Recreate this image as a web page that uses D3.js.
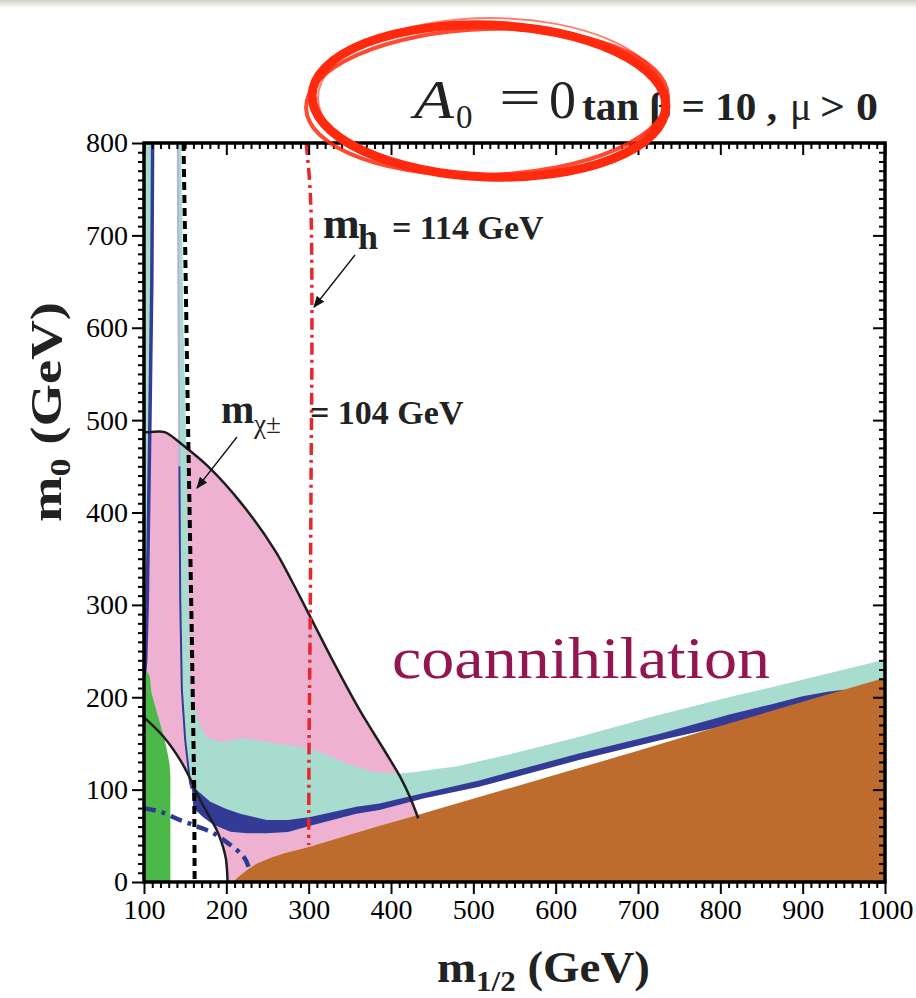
<!DOCTYPE html>
<html>
<head>
<meta charset="utf-8">
<script src="https://cdn.jsdelivr.net/npm/d3@7"></script>
<style>
  body { margin: 0; background: #fff; }
  svg text { font-family: "Liberation Serif", "Times New Roman", serif; }
</style>
</head>
<body>
<div id="chart"></div>
<script>
// all points are [m1/2, m0] in GeV
var xTicks = [100, 200, 300, 400, 500, 600, 700, 800, 900, 1000];
var yTicks = [0, 100, 200, 300, 400, 500, 600, 700, 800];

// brown: charged LSP region, upper edge
var stauEdge = [[208,0],[215,6],[225,13],[237,20],[253,26],[270,31],[300,38],[386,61],[426,71],
  [507,92],[600,116],[700,142],[800,169],[900,195],[1000,221]];

// green: b -> s gamma
var bsgEdge = [[100,0],[100,218],[104,228],[107,222],[109,205],[112,195],[118,176],[124,158],
  [128,142],[131,128],[132,115],[132,0]];

// pink: g-2 region, outer and inner black curves
var gm2Outer = [[100,487],[107,487],[125,487],[147,473],[180,448],[220,408],[259,359],[280,325],
  [302,287],[332,235],[362,186],[393,141],[411,114],[423,92],[433,69]];
var gm2Inner = [[100,178],[104,175],[124,157],[144,132],[156,112],[162,100],[170,86],[180,70],
  [189,55],[196,38],[199.5,25],[201,10],[201.5,0]];

// light teal: old cosmology region
var tealLeftLine = [[110.5,800],[109.5,650],[107,487],[104,305],[102,240],[100.5,224]];
var tealStripLine = [[141,800],[142,600],[143,450],[144,305],[146,208],[150,154],[156,107],[158,101]];
var tealTop = [[145,800],[148,600],[152,450],[154,305],[156,215],[160,192],[168,170],[176,157],
  [190,152],[200,152],[220,156],[240,153],[261,150],[300,145],[326,136],[350,127],[378,119],
  [410,117.5],[430,119],[459,123],[479,125],[548,139],[628,157],[717,179],[810,200],[891,217],
  [1000,241]];

// dark blue: WMAP band
var bandUpper = [[158,104],[170,95],[180.5,87],[200,79],[217,74],[249,67],[275,67],[302,70.5],
  [358,81.5],[386,85],[439,96],[507,110],[628,139],[729,161],[810,181],[860,192],[900,201],
  [930,206],[950,208]];
var bandLower = [[160,80],[172,70],[184.5,62],[205,54.5],[225,52.7],[249,52.7],[275,54],[302,61],
  [358,74],[386,78],[439,90.5],[507,103],[628,132],[729,154],[800,168],[860,183],[900,194],
  [930,202],[950,206]];

// contour lines
var mhLine = [[297,800],[301,760],[303,720],[304,600],[303,450],[302,300],[300.5,150],[300,40]];
var charginoLine = [[148,800],[153,520],[158,270],[161,100],[161.5,0]];
var selectronLine = [[100,80],[120,76],[144,67],[165,60],[184.5,52.7],[205,40],[221,27.4],[227,16.6]];

var W = 916, H = 998;
var serif = "'Liberation Serif', 'Times New Roman', serif";
var svg = d3.select("#chart").append("svg")
  .attr("width", W).attr("height", H)
  .style("font-family", serif);

var x = d3.scaleLinear().domain([100, 1000]).range([144, 885]);
var y = d3.scaleLinear().domain([0, 800]).range([882, 143]);

var line = d3.line().x(function(d) { return x(d[0]); }).y(function(d) { return y(d[1]); });
var smooth = d3.line().x(function(d) { return x(d[0]); }).y(function(d) { return y(d[1]); })
  .curve(d3.curveCatmullRom);

// scanner shadow at the top
var defs = svg.append("defs");
var grad = defs.append("linearGradient").attr("id", "topshade")
  .attr("x1", 0).attr("y1", 0).attr("x2", 0).attr("y2", 1);
grad.append("stop").attr("offset", "0%").attr("stop-color", "#cfcdc6");
grad.append("stop").attr("offset", "100%").attr("stop-color", "#ffffff");
svg.append("rect").attr("width", W).attr("height", 8).attr("fill", "url(#topshade)");

defs.append("clipPath").attr("id", "clip").append("rect")
  .attr("x", x(100)).attr("y", y(800)).attr("width", x(1000) - x(100)).attr("height", y(0) - y(800));
var area = svg.append("g").attr("clip-path", "url(#clip)");

// pink
var pinkPoly = gm2Outer
  .concat(stauEdge.filter(function(d) { return d[0] <= 433; }).reverse())
  .concat(gm2Inner.slice().reverse());
area.append("path").attr("d", line(pinkPoly) + "Z").attr("fill", "#efb1d1");

// teal
var tealPoly = tealStripLine
  .concat(bandLower)
  .concat([[1000, 219]])
  .concat(tealTop.slice().reverse());
area.append("path").attr("d", line(tealPoly) + "Z").attr("fill", "#a8dccf");
var tealLeftPoly = [[100, 800]].concat(tealLeftLine).concat([[100, 222]]);
area.append("path").attr("d", line(tealLeftPoly) + "Z").attr("fill", "#a8dccf");

// WMAP band
area.append("path").attr("d", line(bandUpper.concat(bandLower.slice().reverse())) + "Z")
  .attr("fill", "#343b97");
area.append("path").attr("d", line(tealLeftLine)).attr("fill", "none")
  .attr("stroke", "#343b97").attr("stroke-width", 3.5);
area.append("path").attr("d", line(tealStripLine.slice(0, 3))).attr("fill", "none")
  .attr("stroke", "#b3b3dc").attr("stroke-width", 2);
area.append("path").attr("d", line(tealStripLine.slice(2))).attr("fill", "none")
  .attr("stroke", "#343b97").attr("stroke-width", 2);

// green
area.append("path").attr("d", line(bsgEdge) + "Z").attr("fill", "#4cb848");

// brown
var brownPoly = stauEdge.concat([[1000, 0]]);
area.append("path").attr("d", line(brownPoly) + "Z").attr("fill", "#bd6c2d");

// contours
area.append("path").attr("d", smooth(gm2Outer)).attr("fill", "none")
  .attr("stroke", "#1e1e1e").attr("stroke-width", 2.5);
area.append("path").attr("d", smooth(gm2Inner)).attr("fill", "none")
  .attr("stroke", "#1e1e1e").attr("stroke-width", 2.5);
area.append("path").attr("d", smooth(selectronLine)).attr("fill", "none")
  .attr("stroke", "#2f3994").attr("stroke-width", 4.5).attr("stroke-dasharray", "12,6,4,6");
area.append("path").attr("d", line(charginoLine)).attr("fill", "none")
  .attr("stroke", "#000").attr("stroke-width", 4).attr("stroke-dasharray", "8,5");
area.append("path").attr("d", smooth(mhLine)).attr("fill", "none")
  .attr("stroke", "#e8262d").attr("stroke-width", 3.5).attr("stroke-dasharray", "12,5,3,5");

// axes with major and minor ticks
var minor = d3.range(100, 1001, 10).filter(function(v) { return v % 100 !== 0; });
var minorY = d3.range(0, 801, 10).filter(function(v) { return v % 100 !== 0; });

function styleAxis(g) {
  g.select(".domain").remove();
  g.selectAll("line").attr("stroke", "#000").attr("stroke-width", 2);
  g.selectAll("text").attr("fill", "#000").attr("font-size", 28)
    .attr("font-family", serif);
}

svg.append("g").attr("transform", "translate(0," + y(0) + ")")
  .call(d3.axisBottom(x).tickValues(xTicks).tickSize(12).tickPadding(5).tickFormat(d3.format("d")))
  .call(styleAxis);
svg.append("g").attr("transform", "translate(0," + y(0) + ")")
  .call(d3.axisBottom(x).tickValues(minor).tickSize(6).tickFormat(""))
  .call(styleAxis);
svg.append("g").attr("transform", "translate(0," + y(800) + ")")
  .call(d3.axisTop(x).tickValues(xTicks).tickSize(-12).tickFormat(""))
  .call(styleAxis);
svg.append("g").attr("transform", "translate(0," + y(800) + ")")
  .call(d3.axisTop(x).tickValues(minor).tickSize(-6).tickFormat(""))
  .call(styleAxis);
svg.append("g").attr("transform", "translate(" + x(100) + ",0)")
  .call(d3.axisLeft(y).tickValues(yTicks).tickSize(12).tickPadding(4).tickFormat(d3.format("d")))
  .call(styleAxis);
svg.append("g").attr("transform", "translate(" + x(100) + ",0)")
  .call(d3.axisLeft(y).tickValues(minorY).tickSize(6).tickFormat(""))
  .call(styleAxis);
svg.append("g").attr("transform", "translate(" + x(1000) + ",0)")
  .call(d3.axisRight(y).tickValues(yTicks).tickSize(-12).tickFormat(""))
  .call(styleAxis);
svg.append("g").attr("transform", "translate(" + x(1000) + ",0)")
  .call(d3.axisRight(y).tickValues(minorY).tickSize(-6).tickFormat(""))
  .call(styleAxis);

// frame
svg.append("rect").attr("x", x(100)).attr("y", y(800))
  .attr("width", x(1000) - x(100)).attr("height", y(0) - y(800))
  .attr("fill", "none").attr("stroke", "#000").attr("stroke-width", 3.5);

// axis titles
var xt = svg.append("text").attr("x", 437).attr("y", 982)
  .attr("font-weight", "bold").attr("font-size", 44).attr("fill", "#222")
  .attr("textLength", 213).attr("lengthAdjust", "spacingAndGlyphs");
xt.append("tspan").text("m");
xt.append("tspan").attr("dy", 9).attr("font-size", 29).text("1/2");
xt.append("tspan").attr("dy", -9).text(" (GeV)");

var yt = svg.append("text").attr("transform", "translate(61,522) rotate(-90)")
  .attr("font-weight", "bold").attr("font-size", 44).attr("fill", "#222")
  .attr("textLength", 220).attr("lengthAdjust", "spacingAndGlyphs");
yt.append("tspan").text("m");
yt.append("tspan").attr("dy", 9).attr("font-size", 29).text("0");
yt.append("tspan").attr("dy", -9).text(" (GeV)");

// annotations
var arrow = defs.append("marker").attr("id", "arr")
  .attr("viewBox", "0 0 10 10").attr("refX", 9).attr("refY", 5)
  .attr("markerWidth", 9).attr("markerHeight", 9).attr("orient", "auto-start-reverse");
arrow.append("path").attr("d", "M0,1 L10,5 L0,9 Z").attr("fill", "#111");

var mh = svg.append("g").attr("fill", "#222").attr("font-weight", "bold");
mh.append("text").attr("x", 323).attr("y", 238).attr("font-size", 44).text("m");
mh.append("text").attr("x", 358).attr("y", 249).attr("font-size", 36).text("h");
mh.append("text").attr("x", 392).attr("y", 239).attr("font-size", 34).text("= 114 GeV");
svg.append("line").attr("x1", 355).attr("y1", 255).attr("x2", 314).attr("y2", 307)
  .attr("stroke", "#111").attr("stroke-width", 1.3).attr("marker-end", "url(#arr)");

var mc = svg.append("g").attr("fill", "#222");
mc.append("text").attr("x", 221).attr("y", 423).attr("font-weight", "bold").attr("font-size", 40).text("m");
mc.append("text").attr("x", 254).attr("y", 433).attr("font-size", 27).text("\u03c7\u00b1");
mc.append("text").attr("x", 310).attr("y", 424).attr("font-weight", "bold").attr("font-size", 34).text("= 104 GeV");
svg.append("line").attr("x1", 237).attr("y1", 437).attr("x2", 197).attr("y2", 488)
  .attr("stroke", "#111").attr("stroke-width", 1.3).attr("marker-end", "url(#arr)");

svg.append("text").attr("x", 392).attr("y", 678).attr("fill", "#941650")
  .attr("font-family", serif).attr("font-size", 60)
  .attr("textLength", 378).attr("lengthAdjust", "spacingAndGlyphs")
  .text("coannihilation");

// title
var t = svg.append("g").attr("fill", "#222");
t.append("text").attr("x", 414).attr("y", 118).attr("font-size", 54)
  .attr("font-style", "italic").attr("textLength", 40).attr("lengthAdjust", "spacingAndGlyphs").text("A");
t.append("text").attr("x", 456).attr("y", 128).attr("font-size", 33).text("0");
t.append("text").attr("x", 499).attr("y", 115).attr("font-size", 52)
  .attr("textLength", 42).attr("lengthAdjust", "spacingAndGlyphs").text("=");
t.append("text").attr("x", 549).attr("y", 118).attr("font-size", 54).text("0");
t.append("text").attr("x", 582).attr("y", 120).attr("font-weight", "bold")
  .attr("font-size", 40).attr("textLength", 195).attr("lengthAdjust", "spacingAndGlyphs")
  .text("tan \u03b2 = 10 ,");
t.append("text").attr("x", 790).attr("y", 120).attr("font-size", 40).text("\u03bc");
t.append("text").attr("x", 820).attr("y", 120).attr("font-weight", "bold")
  .attr("font-size", 40).attr("textLength", 58).attr("lengthAdjust", "spacingAndGlyphs").text("> 0");

// red marker ring
var ring = svg.append("g").attr("fill", "none").attr("stroke", "#ff2a0e");
ring.append("ellipse").attr("cx", 489).attr("cy", 101).attr("rx", 177).attr("ry", 76)
  .attr("stroke-width", 9).attr("transform", "rotate(2,489,101)");
ring.append("ellipse").attr("cx", 487).attr("cy", 102).attr("rx", 181).attr("ry", 73)
  .attr("stroke-width", 4).attr("opacity", 0.85).attr("transform", "rotate(-2,487,102)");
ring.append("ellipse").attr("cx", 491).attr("cy", 98).attr("rx", 173).attr("ry", 80)
  .attr("stroke-width", 2).attr("opacity", 0.6);
</script>
</body>
</html>
